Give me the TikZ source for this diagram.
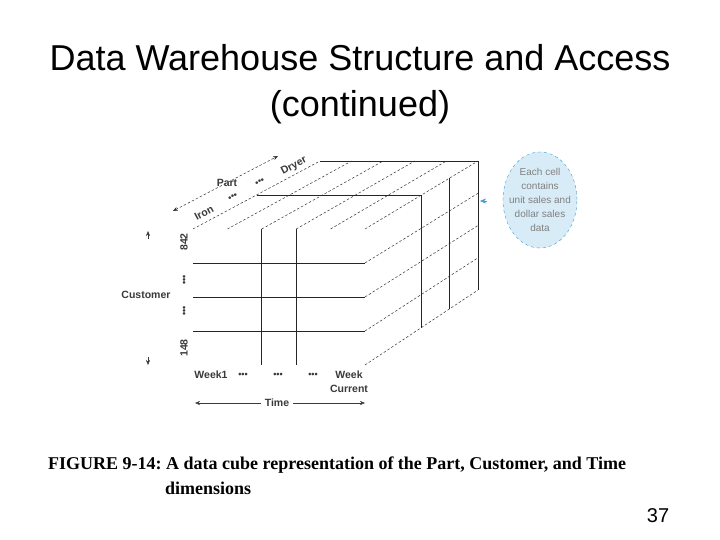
\documentclass[tikz,border=0pt]{standalone}
\usepackage{fontspec}
\setmainfont{Liberation Sans}
\newfontfamily\capfont{Liberation Serif}
\usepackage{xcolor}
\usetikzlibrary{arrows.meta, calc, shapes.geometric}
\frenchspacing

\definecolor{callblue}{HTML}{3E9FD6}
\definecolor{callfill}{HTML}{D8ECF8}
\definecolor{labgray}{HTML}{3A3A3A}

\tikzset{
  grid/.style={black!85, line width=0.8pt},
  hidden/.style={black!80, line width=0.5pt, dash pattern=on 2.5pt off 2pt},
  lbl/.style={font=\fontsize{10.5}{14}\selectfont\bfseries, text=labgray, inner sep=1pt},
  dots/.style={font=\fontsize{9}{10}\selectfont\bfseries, text=labgray, inner sep=0pt},
  tip/.style={-{Stealth[length=5pt, width=4pt]}}
}

\begin{document}
\begin{tikzpicture}[x=1pt, y=-1pt]
\fill[white] (0,0) rectangle (720,540);
\useasboundingbox (0,0) rectangle (720,540);

% Title
\node[anchor=base, font=\fontsize{36}{40}\selectfont] (title1) at (360,71) {Data Warehouse Structure and Access};
\node[anchor=base, font=\fontsize{36}{40}\selectfont] (title2) at (360,117) {(continued)};

  % Define the corners of the cube
  \coordinate (FTL) at (193,229);
  \coordinate (FTR) at (365,229);
  \coordinate (FBL) at (193,365);
  \coordinate (FBR) at (365,365);
  \coordinate (BTL) at (320,161);
  \coordinate (BTR) at (478,161);
  \coordinate (BBR) at (478,290);

  % Draw the dashed cell lines
  \foreach \i in {0,...,5} {
    \draw[hidden] ($(FTL)!\i/5!(FTR)$) -- ($(BTL)!\i/5!(BTR)$);
  }
  \foreach \j in {1,...,4} {
    \draw[hidden] ($(FTR)!\j/4!(FBR)$) -- ($(BTR)!\j/4!(BBR)$);
  }

  % Draw the slices
  \draw[grid] (BTL) -- (BTR) -- (BBR);
  \draw[grid] ($(FTL)!0.5!(BTL)$) -- ($(FTR)!0.5!(BTR)$) -- ($(FBR)!0.5!(BBR)$);
  \draw[grid] ($(FTR)!0.75!(BTR)$) -- ($(FBR)!0.75!(BBR)$);
  \foreach \j in {1,2,3} {
    \draw[grid] ($(FTL)!\j/4!(FBL)$) -- ($(FTR)!\j/4!(FBR)$);
  }
  \foreach \i in {2,3} {
    \draw[grid] ($(FTL)!\i/5!(FTR)$) -- ($(FBL)!\i/5!(FBR)$);
  }

  % Part axis
  \coordinate (partL) at (173,211);
  \coordinate (partR) at (278,156);
  \draw[hidden, {Stealth[length=5pt, width=4pt]}-{Stealth[length=5pt, width=4pt]}] (partL) -- (partR);
  \node[lbl] (part) at (227,183) {Part};
  \node[lbl, rotate=28, inner sep=0pt] (iron) at (204,213) {Iron};
  \node[dots, rotate=28] (pdots1) at (233,197) {•••};
  \node[dots, rotate=28] (pdots2) at (260,182) {•••};
  \node[lbl, rotate=28, inner sep=0pt] (dryer) at (294,166) {Dryer};

  % Customer axis
  \node[lbl, rotate=90, inner sep=0pt] (c842) at (184,242) {842};
  \node[dots, rotate=90] (cdots1) at (185,280) {•••};
  \node[dots, rotate=90] (cdots2) at (185,311) {•••};
  \node[lbl, rotate=90, inner sep=0pt] (c148) at (184,348) {148};
  \node[lbl] (customer) at (146,295) {Customer};
  \coordinate (cupA) at (148,239);
  \coordinate (cupB) at (148,231);
  \coordinate (cdnA) at (148,357);
  \coordinate (cdnB) at (148,365);
  \draw[labgray, tip] (cupA) -- (cupB);
  \draw[labgray, tip] (cdnA) -- (cdnB);

  % Time axis
  \node[lbl] (week1) at (211,375) {Week1};
  \node[dots] (tdots1) at (243,375) {•••};
  \node[dots] (tdots2) at (278,375) {•••};
  \node[dots] (tdots3) at (313,375) {•••};
  \node[lbl, align=center] (weekcur) at (349,382) {Week\\Current};
  \node[lbl, inner xsep=4pt] (time) at (277,403) {Time};
  \coordinate (timeL) at (195,403);
  \coordinate (timeR) at (365,403);
  \draw[labgray, tip] (time.west) -- (timeL);
  \draw[labgray, tip] (time.east) -- (timeR);

  % Callout
  \node[ellipse, draw=callblue, dashed, fill=callfill, minimum width=74pt, minimum height=96pt, inner sep=0pt] (cell) at (540,200) {};
  \node[align=center, font=\fontsize{10}{14}\selectfont, text=black!50] (cellText) at (cell.center) {Each cell\\contains\\unit sales and\\dollar sales\\data};
  \coordinate (callTail) at (487,201);
  \coordinate (callTip) at (480,201);
  \draw[callblue, -{Stealth[length=6pt, width=5pt]}] (callTail) -- (callTip);

% Caption
\node[anchor=base west, font=\capfont\bfseries\fontsize{18}{20}\selectfont, inner sep=0pt] (cap1) at (48,469) {FIGURE 9-14: A data cube representation of the Part, Customer, and Time};
\node[anchor=base west, font=\capfont\bfseries\fontsize{18}{20}\selectfont, inner sep=0pt] (cap2) at (165,494) {dimensions};
\node[anchor=base, font=\fontsize{20}{22}\selectfont] (page) at (658,522) {37};
\end{tikzpicture}
\end{document}
